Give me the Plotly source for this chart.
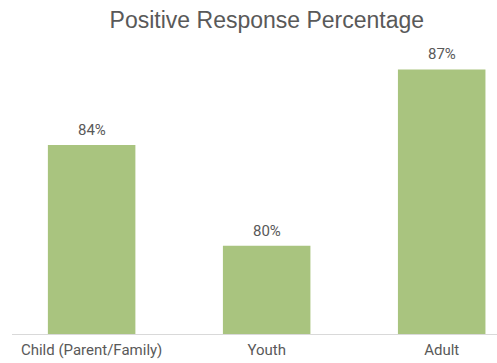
import plotly.graph_objects as go

categories = ["Child (Parent/Family)", "Youth", "Adult"]
values = [84, 80, 87]
labels = ["84%", "80%", "87%"]

gray = "#595959"
fig = go.Figure(go.Bar(
    x=categories, y=values, width=0.5,
    marker=dict(color="#A9C47F", line=dict(width=0)),
    hoverinfo="skip",
))
for c, v, t in zip(categories, values, labels):
    fig.add_annotation(x=c, y=v, text=t, showarrow=False, yanchor="bottom",
                       yshift=4, font=dict(family="Roboto", size=15, color=gray))

fig.update_layout(
    width=497, height=363,
    margin=dict(l=12, r=0, t=40, b=29),
    paper_bgcolor="white", plot_bgcolor="white",
    showlegend=False,
    title=dict(text="Positive Response Percentage", x=0.537, xanchor="center",
               y=0.945, yanchor="middle",
               font=dict(family="Liberation Sans", size=23, color=gray)),
    xaxis=dict(range=[-0.455, 2.316], showline=True, linecolor="#d9d9d9", linewidth=1,
               ticks="", showgrid=False, ticklabelstandoff=2,
               tickfont=dict(family="Roboto", size=15, color=gray)),
    yaxis=dict(range=[76.5, 88.17], visible=False, showgrid=False),
)
fig.write_html("out.html")
